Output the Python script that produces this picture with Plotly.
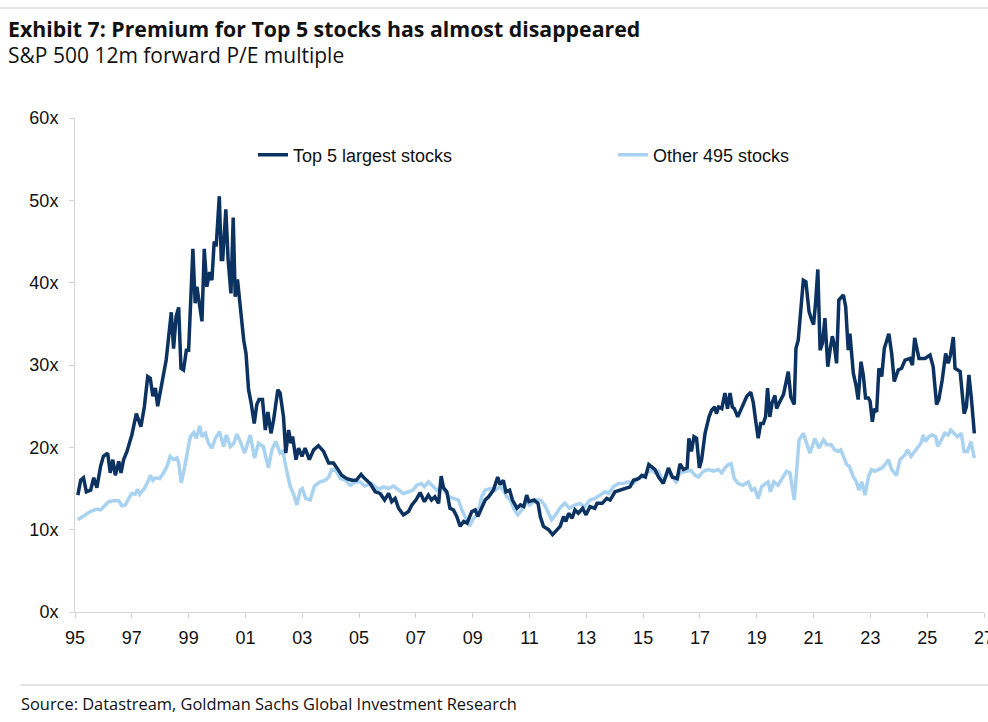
import plotly.graph_objects as go

# ---------------- data ----------------
top5_years = [1995.1, 1995.2, 1995.3, 1995.4, 1995.55, 1995.66, 1995.77, 1995.9, 1996.0, 1996.15, 1996.24, 1996.33, 1996.42, 1996.54, 1996.62, 1996.71, 1996.83, 1997.0, 1997.16, 1997.32, 1997.44, 1997.56, 1997.65, 1997.74, 1997.83, 1997.91, 1998.06, 1998.21, 1998.39, 1998.47, 1998.56, 1998.65, 1998.73, 1998.82, 1998.92, 1999.0, 1999.15, 1999.23, 1999.29, 1999.39, 1999.47, 1999.55, 1999.64, 1999.74, 1999.82, 1999.9, 1999.97, 2000.08, 2000.15, 2000.2, 2000.31, 2000.39, 2000.49, 2000.57, 2000.64, 2000.72, 2000.82, 2000.94, 2001.02, 2001.11, 2001.2, 2001.31, 2001.4, 2001.48, 2001.6, 2001.7, 2001.79, 2001.9, 2001.99, 2002.14, 2002.22, 2002.34, 2002.42, 2002.52, 2002.6, 2002.66, 2002.78, 2002.87, 2002.99, 2003.1, 2003.25, 2003.4, 2003.57, 2003.75, 2003.93, 2004.1, 2004.22, 2004.39, 2004.57, 2004.75, 2004.9, 2005.07, 2005.2, 2005.39, 2005.57, 2005.74, 2005.9, 2006.04, 2006.15, 2006.27, 2006.39, 2006.56, 2006.74, 2006.86, 2007.0, 2007.15, 2007.3, 2007.44, 2007.55, 2007.67, 2007.8, 2007.89, 2007.97, 2008.09, 2008.2, 2008.32, 2008.44, 2008.56, 2008.68, 2008.8, 2008.97, 2009.09, 2009.18, 2009.32, 2009.44, 2009.56, 2009.73, 2009.88, 2009.96, 2010.08, 2010.17, 2010.3, 2010.4, 2010.56, 2010.68, 2010.8, 2010.9, 2010.98, 2011.16, 2011.3, 2011.38, 2011.49, 2011.67, 2011.81, 2011.96, 2012.08, 2012.2, 2012.28, 2012.38, 2012.5, 2012.6, 2012.72, 2012.87, 2012.99, 2013.13, 2013.3, 2013.38, 2013.56, 2013.72, 2013.84, 2014.01, 2014.19, 2014.36, 2014.54, 2014.66, 2014.84, 2014.96, 2015.08, 2015.2, 2015.3, 2015.42, 2015.54, 2015.71, 2015.89, 2016.03, 2016.2, 2016.3, 2016.42, 2016.55, 2016.61, 2016.7, 2016.79, 2016.88, 2016.98, 2017.06, 2017.18, 2017.32, 2017.41, 2017.52, 2017.58, 2017.66, 2017.77, 2017.88, 2017.97, 2018.06, 2018.14, 2018.21, 2018.33, 2018.47, 2018.65, 2018.79, 2018.88, 2018.96, 2019.05, 2019.14, 2019.23, 2019.31, 2019.38, 2019.46, 2019.54, 2019.64, 2019.7, 2019.79, 2019.94, 2020.11, 2020.2, 2020.32, 2020.38, 2020.46, 2020.56, 2020.64, 2020.73, 2020.84, 2020.93, 2021.0, 2021.07, 2021.15, 2021.23, 2021.31, 2021.4, 2021.5, 2021.58, 2021.66, 2021.73, 2021.81, 2021.89, 2022.05, 2022.13, 2022.22, 2022.28, 2022.34, 2022.4, 2022.49, 2022.57, 2022.67, 2022.75, 2022.83, 2022.93, 2022.99, 2023.07, 2023.14, 2023.22, 2023.3, 2023.4, 2023.49, 2023.65, 2023.75, 2023.84, 2023.98, 2024.1, 2024.22, 2024.39, 2024.48, 2024.56, 2024.71, 2024.92, 2025.1, 2025.21, 2025.33, 2025.41, 2025.53, 2025.65, 2025.74, 2025.82, 2025.92, 2025.98, 2026.16, 2026.21, 2026.3, 2026.38, 2026.47, 2026.56, 2026.66]
top5_pe = [14.2, 16.0, 16.3, 14.6, 14.8, 16.3, 15.1, 17.7, 18.9, 19.3, 16.9, 18.5, 16.6, 18.3, 16.9, 18.5, 19.5, 21.5, 24.1, 22.5, 24.9, 28.6, 28.4, 26.2, 27.2, 25.0, 27.8, 30.6, 36.4, 32.0, 35.9, 37.0, 29.6, 29.4, 31.8, 31.8, 44.1, 37.5, 39.5, 37.1, 35.3, 44.1, 39.5, 41.3, 40.3, 45.0, 44.4, 50.5, 42.8, 42.8, 48.9, 42.8, 38.7, 47.9, 38.3, 40.4, 37.1, 33.0, 31.4, 27.0, 25.4, 22.9, 25.2, 25.8, 25.8, 22.1, 24.3, 21.7, 23.3, 27.0, 26.6, 23.7, 19.3, 22.1, 20.5, 21.3, 18.5, 19.9, 18.9, 19.9, 18.5, 19.7, 20.2, 19.5, 18.1, 18.1, 17.5, 16.6, 16.2, 16.0, 16.0, 16.7, 16.2, 15.6, 14.6, 14.4, 13.6, 14.4, 13.4, 13.8, 12.6, 11.8, 12.2, 13.0, 13.6, 14.5, 13.4, 14.2, 13.6, 14.0, 13.2, 16.5, 15.1, 14.6, 12.6, 12.4, 11.6, 10.4, 11.0, 10.8, 12.2, 12.4, 11.6, 12.8, 13.6, 14.0, 14.8, 16.4, 15.5, 16.0, 14.6, 14.8, 13.6, 12.6, 13.0, 12.8, 14.2, 13.4, 13.6, 13.2, 11.6, 10.4, 10.0, 9.4, 10.0, 10.4, 11.6, 11.0, 12.0, 11.4, 12.4, 12.0, 12.6, 11.8, 12.8, 12.6, 13.2, 13.2, 13.8, 13.6, 14.6, 14.8, 15.0, 15.2, 16.0, 16.2, 16.6, 16.4, 17.9, 17.6, 17.3, 16.4, 15.6, 17.5, 16.4, 16.2, 18.0, 17.3, 17.5, 21.1, 19.5, 21.3, 21.1, 17.5, 18.5, 21.7, 23.7, 24.5, 24.9, 24.1, 24.9, 24.7, 26.6, 24.7, 26.6, 24.9, 24.7, 23.7, 24.9, 26.2, 26.7, 25.4, 23.3, 21.1, 22.9, 22.9, 23.7, 27.2, 23.7, 25.4, 26.3, 24.7, 25.4, 26.4, 29.2, 26.1, 25.2, 32.0, 33.0, 36.7, 40.3, 40.1, 36.5, 35.5, 34.9, 37.5, 41.6, 31.8, 32.6, 35.7, 29.8, 31.8, 33.5, 32.4, 30.2, 37.9, 38.5, 37.1, 31.8, 33.8, 31.8, 29.0, 27.6, 25.8, 30.4, 28.8, 26.0, 26.0, 25.6, 23.1, 24.7, 24.3, 29.6, 28.6, 32.0, 33.8, 31.4, 28.0, 29.4, 29.6, 30.6, 30.8, 30.0, 33.3, 30.8, 30.8, 31.2, 29.8, 25.2, 25.8, 28.2, 31.4, 30.2, 31.2, 33.4, 29.6, 29.2, 27.0, 24.1, 24.9, 28.8, 25.8, 21.7]

other_years = [1995.1, 1995.3, 1995.54, 1995.77, 1995.9, 1996.07, 1996.19, 1996.36, 1996.54, 1996.65, 1996.77, 1996.89, 1997.0, 1997.12, 1997.2, 1997.28, 1997.44, 1997.59, 1997.65, 1997.74, 1997.83, 1997.98, 1998.12, 1998.24, 1998.35, 1998.47, 1998.59, 1998.65, 1998.74, 1998.82, 1998.94, 1999.06, 1999.18, 1999.27, 1999.39, 1999.47, 1999.59, 1999.7, 1999.82, 1999.94, 2000.09, 2000.23, 2000.33, 2000.47, 2000.59, 2000.7, 2000.82, 2000.97, 2001.08, 2001.17, 2001.32, 2001.46, 2001.63, 2001.81, 2001.93, 2002.07, 2002.22, 2002.32, 2002.42, 2002.58, 2002.69, 2002.81, 2002.93, 2003.0, 2003.12, 2003.28, 2003.43, 2003.63, 2003.81, 2003.93, 2004.04, 2004.18, 2004.34, 2004.52, 2004.69, 2004.87, 2005.04, 2005.2, 2005.43, 2005.69, 2005.86, 2006.04, 2006.21, 2006.39, 2006.56, 2006.74, 2006.9, 2007.03, 2007.2, 2007.3, 2007.44, 2007.62, 2007.74, 2007.9, 2008.0, 2008.17, 2008.32, 2008.5, 2008.62, 2008.77, 2008.89, 2009.0, 2009.18, 2009.32, 2009.44, 2009.62, 2009.79, 2009.97, 2010.08, 2010.2, 2010.32, 2010.47, 2010.59, 2010.73, 2010.86, 2011.0, 2011.22, 2011.39, 2011.53, 2011.67, 2011.78, 2011.92, 2012.06, 2012.24, 2012.41, 2012.6, 2012.77, 2012.94, 2013.13, 2013.3, 2013.48, 2013.66, 2013.78, 2013.95, 2014.13, 2014.3, 2014.48, 2014.66, 2014.8, 2014.98, 2015.16, 2015.3, 2015.42, 2015.54, 2015.71, 2015.86, 2016.03, 2016.16, 2016.3, 2016.5, 2016.68, 2016.83, 2016.95, 2017.12, 2017.3, 2017.47, 2017.64, 2017.76, 2017.88, 2018.0, 2018.1, 2018.21, 2018.35, 2018.52, 2018.7, 2018.82, 2018.93, 2019.05, 2019.17, 2019.31, 2019.4, 2019.48, 2019.6, 2019.75, 2019.89, 2020.05, 2020.17, 2020.32, 2020.4, 2020.49, 2020.64, 2020.76, 2020.87, 2021.05, 2021.19, 2021.35, 2021.47, 2021.62, 2021.74, 2021.87, 2021.96, 2022.05, 2022.17, 2022.26, 2022.4, 2022.51, 2022.6, 2022.7, 2022.81, 2022.93, 2023.04, 2023.16, 2023.28, 2023.42, 2023.54, 2023.63, 2023.75, 2023.92, 2024.04, 2024.22, 2024.31, 2024.43, 2024.6, 2024.78, 2024.86, 2024.94, 2025.06, 2025.18, 2025.3, 2025.37, 2025.5, 2025.62, 2025.74, 2025.83, 2025.95, 2026.06, 2026.2, 2026.3, 2026.42, 2026.54, 2026.66]
other_pe = [11.2, 11.6, 12.2, 12.5, 12.4, 13.0, 13.4, 13.5, 13.5, 12.9, 13.0, 13.8, 14.4, 14.3, 14.9, 14.3, 15.0, 16.0, 16.6, 16.0, 16.3, 16.2, 16.9, 17.7, 18.9, 18.5, 18.7, 18.1, 15.7, 16.9, 19.3, 21.3, 21.8, 21.1, 22.6, 21.3, 21.7, 20.5, 19.9, 21.1, 21.9, 20.1, 21.5, 20.1, 20.5, 21.6, 20.7, 19.3, 20.5, 21.5, 18.7, 20.5, 20.1, 17.5, 19.7, 20.7, 19.3, 19.5, 17.7, 15.2, 14.4, 13.0, 14.8, 15.0, 13.8, 13.6, 15.3, 15.8, 16.0, 16.4, 17.3, 17.2, 16.2, 16.0, 15.4, 15.8, 15.8, 15.3, 15.6, 14.9, 15.2, 15.0, 15.3, 14.9, 14.4, 14.6, 14.8, 15.4, 15.6, 15.2, 15.8, 15.2, 14.8, 15.2, 14.8, 14.0, 13.8, 13.6, 12.4, 11.2, 10.4, 11.2, 12.0, 14.0, 14.8, 15.0, 14.8, 15.2, 14.8, 14.0, 13.6, 12.4, 11.8, 12.4, 13.4, 13.0, 13.6, 13.6, 13.0, 12.0, 11.2, 11.8, 12.6, 13.2, 12.6, 13.0, 13.2, 12.8, 13.6, 13.8, 14.2, 14.6, 14.4, 15.2, 15.6, 15.6, 15.8, 15.6, 16.2, 16.4, 16.9, 17.3, 16.9, 17.1, 15.8, 16.9, 16.4, 15.8, 16.9, 17.1, 17.2, 16.6, 16.4, 17.1, 17.3, 17.1, 17.3, 16.9, 17.5, 17.9, 18.0, 16.2, 15.6, 15.4, 15.8, 14.8, 15.0, 13.8, 15.2, 15.6, 15.8, 14.6, 15.8, 15.4, 16.2, 17.1, 16.9, 13.6, 16.9, 20.9, 21.7, 20.5, 19.3, 21.1, 19.9, 20.9, 20.3, 20.3, 19.7, 19.5, 19.7, 18.9, 17.9, 17.7, 16.4, 15.8, 14.8, 15.8, 14.2, 16.4, 17.3, 17.1, 17.3, 17.5, 18.0, 18.5, 17.3, 16.6, 18.5, 19.1, 19.7, 18.9, 19.7, 20.5, 21.5, 20.7, 21.3, 21.5, 21.3, 20.1, 20.9, 21.7, 21.5, 22.1, 21.7, 21.3, 21.7, 19.5, 19.5, 20.7, 18.7]

x_tick_values = list(range(1995, 2028, 2))
x_tick_labels = ["95", "97", "99", "01", "03", "05", "07", "09", "11", "13", "15", "17", "19", "21", "23", "25", "27"]
y_tick_values = [0, 10, 20, 30, 40, 50, 60]
y_tick_labels = ["0x", "10x", "20x", "30x", "40x", "50x", "60x"]

# ---------------- figure ----------------
W, H = 988, 722
ML, MR, MT, MB = 75, 4, 118, 110
PW, PH = W - ML - MR, H - MT - MB


def px(xp):
    return (xp - ML) / PW


def py(yp):
    return (H - MB - yp) / PH


DARK = "#0b3260"
LIGHT = "#a9d2f1"
AXIS = "#d4d4d4"
TXT = "#111111"
ARIAL = "Liberation Sans, Arial"

fig = go.Figure()
fig.add_trace(go.Scatter(x=other_years, y=other_pe, mode="lines", name="Other 495 stocks",
                         line=dict(color=LIGHT, width=3.5)))
fig.add_trace(go.Scatter(x=top5_years, y=top5_pe, mode="lines", name="Top 5 largest stocks",
                         line=dict(color=DARK, width=3.5)))

fig.update_layout(
    width=W, height=H,
    margin=dict(l=ML, r=MR, t=MT, b=MB, autoexpand=False),
    paper_bgcolor="white", plot_bgcolor="white",
    showlegend=True,
    legend=dict(orientation="h", x=px(253), y=py(155), xanchor="left", yanchor="middle",
                traceorder="reversed", entrywidth=315, entrywidthmode="pixels",
                font=dict(family=ARIAL, size=18, color=TXT),
                bgcolor="rgba(0,0,0,0)"),
    title=dict(text="<b>Exhibit 7: Premium for Top 5 stocks has almost disappeared</b>",
               x=8 / W, xanchor="left", xref="container",
               y=1 - 30 / H, yanchor="middle",
               font=dict(family="Open Sans", size=21.3, color=TXT)),
    xaxis=dict(range=[1995, 2027], tickmode="array", tickvals=x_tick_values, ticktext=x_tick_labels,
               showgrid=False, zeroline=False, showline=True, linecolor=AXIS, linewidth=1,
               ticks="outside", ticklen=5, tickcolor=AXIS, ticklabelstandoff=4,
               ticklabeloverflow="allow", automargin=False,
               tickfont=dict(family=ARIAL, size=18, color=TXT)),
    yaxis=dict(range=[0, 60], tickmode="array", tickvals=y_tick_values, ticktext=y_tick_labels,
               showgrid=False, zeroline=False, showline=True, linecolor=AXIS, linewidth=1,
               ticks="outside", ticklen=5, tickcolor=AXIS, ticklabelstandoff=7, automargin=False,
               tickfont=dict(family=ARIAL, size=18, color=TXT)),
)

fig.add_annotation(text="S&P 500 12m forward P/E multiple", xref="paper", yref="paper",
                   x=px(6), y=py(55), xanchor="left", yanchor="middle", showarrow=False,
                   font=dict(family="Open Sans", size=21, color=TXT))
fig.add_annotation(text="Source: Datastream, Goldman Sachs Global Investment Research", xref="paper", yref="paper",
                   x=px(19), y=py(703), xanchor="left", yanchor="middle", showarrow=False,
                   font=dict(family="Open Sans", size=16.4, color=TXT))

fig.add_shape(type="line", xref="paper", yref="paper", x0=px(0), x1=px(W), y0=py(8), y1=py(8),
              line=dict(color="#c8c8c8", width=1))
fig.add_shape(type="line", xref="paper", yref="paper", x0=px(20), x1=px(W), y0=py(685), y1=py(685),
              line=dict(color="#c8c8c8", width=1))

fig.write_html("out.html", config={"displayModeBar": False},
               post_script="document.body.style.margin='0';document.body.style.overflow='hidden';")
